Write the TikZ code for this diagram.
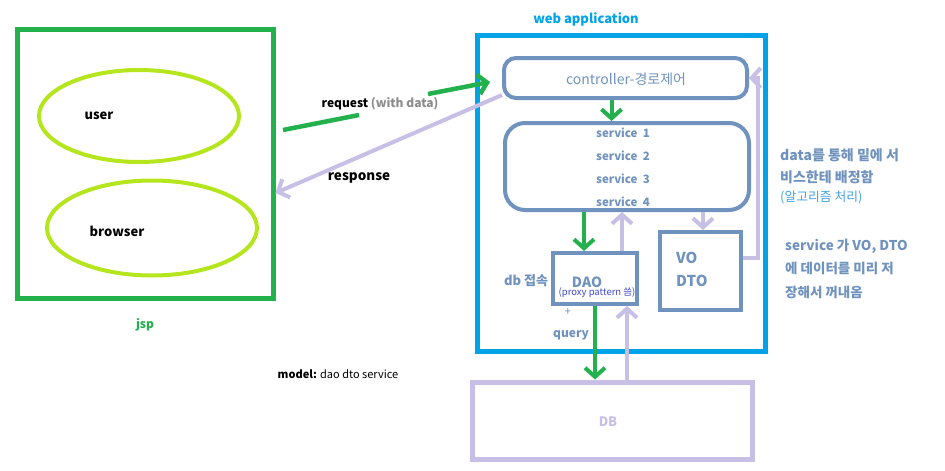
\documentclass[tikz,border=0pt]{standalone}
\usepackage{fontspec}
\setmainfont{Noto Sans CJK KR}
\usetikzlibrary{arrows.meta,shapes.geometric}

\definecolor{paintgreen}{HTML}{22B14C}
\definecolor{paintlime}{HTML}{B5E61D}
\definecolor{paintcyan}{HTML}{00A2E8}
\definecolor{bluegray}{HTML}{7092BE}
\definecolor{lavender}{HTML}{C8BFE7}
\definecolor{indigo}{HTML}{3F48CC}
\definecolor{notegray}{HTML}{8C8C8C}
\definecolor{noteblue}{HTML}{3FA0E6}

\newcommand{\fsz}[1]{\fontsize{#1}{#1}\selectfont}

\begin{document}
\begin{tikzpicture}[%
      x=1pt, y=-1pt,
      font=\fsz{12},
      box/.style={draw, rectangle, inner sep=0pt},
      oval/.style={draw=paintlime, ellipse, line width=4pt, inner sep=0pt},
      garrow/.style={color=paintgreen, line width=4pt, -{Straight Barb[length=9pt,width=20pt]}},
      larrow/.style={color=lavender, line width=4pt, -{Straight Barb[length=9pt,width=20pt]}},
      txt/.style={inner sep=0pt, text=bluegray, font=\fsz{13}\bfseries},
      ]
      \useasboundingbox (0,0) rectangle (945,471);

      % jsp side
      \node [box, draw=paintgreen, line width=5pt, minimum width=256pt, minimum height=269pt] (jsp) at (145,163.5) {};
      \node [oval, minimum width=200pt, minimum height=92pt] (user) at (139,116) {};
      \node [oval, minimum width=210pt, minimum height=95pt] (browser) at (152,228) {};
      \node [font=\fsz{13}\bfseries] at (99,116) {user};
      \node [font=\fsz{13}\bfseries] at (117,231) {browser};
      \node [text=paintgreen, font=\fsz{12}\bfseries] (jsplabel) at (145,325) {jsp};

      % web application
      \node [box, draw=paintcyan, line width=5pt, minimum width=288pt, minimum height=316pt] (webapp) at (621,193) {};
      \node [text=paintcyan, font=\fsz{13}\bfseries] (weblabel) at (586,19) {web application};

      \node [box, draw=bluegray, line width=4pt, rounded corners=12pt, minimum width=243pt, minimum height=40pt] (ctrl) at (625.5,78) {};
      \node [txt, font=\fsz{14}] at (626,79) {controller-경로제어};

      \node [box, draw=bluegray, line width=4pt, rounded corners=20pt, minimum width=244pt, minimum height=87pt] (svc) at (627,166.5) {};
      \foreach \i in {1,...,4}
            \node [txt, font=\fsz{11.5}\bfseries] (svc\i) at (623,133+23*\i-23) {service~~\i};

      \node [box, draw=bluegray, line width=4pt, minimum width=84pt, minimum height=51pt] (dao) at (595,278.5) {};
      \node [txt, font=\fsz{14}\bfseries] at (587,282) {DAO};
      \node [inner sep=0pt, text=indigo, font=\fsz{9.5}] at (597,293) {(proxy pattern 씀)};
      \node [txt] at (526,281) {db 접속};
      \node [txt, font=\fsz{11}] at (568,312) {+};
      \node [txt, font=\fsz{12}\bfseries] at (571,335) {query};

      \node [box, draw=bluegray, line width=4pt, minimum width=81pt, minimum height=78pt] (vo) at (700.5,271) {};
      \node [txt, anchor=west, font=\fsz{15}\bfseries] at (676,258) {VO};
      \node [txt, anchor=west, font=\fsz{15}\bfseries] at (676,281) {DTO};

      \node [box, draw=lavender, line width=5pt, minimum width=280pt, minimum height=77pt] (db) at (612,420.5) {};
      \node [txt, text=lavender, font=\fsz{13}\bfseries] at (608,422) {DB};

      % request / response
      \coordinate (req0) at (283,130);
      \coordinate (req1) at (359,115);
      \coordinate (req2) at (428,94);
      \draw [color=paintgreen, line width=4.5pt] (req0) -- (req1);
      \draw [garrow, line width=4.5pt] (req2) -- ([xshift=-12pt,yshift=-4pt]ctrl.west);
      \node [inner sep=0pt, font=\fsz{12}\bfseries] at (380,104) {request {\color{notegray}(with data)}};

      \draw [larrow] ([yshift=5pt]ctrl.south west) -- ([yshift=-29.5pt]jsp.east);
      \node [inner sep=0pt, font=\fsz{13.5}\bfseries] at (359,178) {response};

      % inner flow
      \draw [garrow] ([xshift=-14pt]ctrl.south) -- ([xshift=-14pt]ctrl.south |- svc.north);
      \draw [garrow] ([xshift=-11pt]dao.north |- svc.south) -- ([xshift=-11pt]dao.north);
      \draw [larrow] ([xshift=27pt]dao.north) -- ([xshift=27pt]dao.north |- svc.south);
      \draw [larrow] ([xshift=2.5pt]vo.north |- svc.south) -- ([xshift=2.5pt]vo.north);
      \draw [larrow] ([yshift=13pt]vo.east) -| ([xshift=9pt]ctrl.east) -- (ctrl.east);
      \draw [garrow] (dao.south) -- (dao.south |- db.north);
      \draw [larrow] ([xshift=32pt]dao.south |- db.north) -- ([xshift=32pt]dao.south);

      % notes
      \node [txt, anchor=west, font=\fsz{14}\bfseries] at (780,155) {data를 통해 밑에 서};
      \node [txt, anchor=west, font=\fsz{14}\bfseries] at (780,177) {비스한테 배정함};
      \node [txt, anchor=west, text=noteblue, font=\fsz{12.8}] at (780,197) {(알고리즘 처리)};
      \node [txt, anchor=west, font=\fsz{13.5}\bfseries] at (785,246) {service 가 VO, DTO};
      \node [txt, anchor=west, font=\fsz{13.5}\bfseries] at (785,268) {에 데이터를 미리 저};
      \node [txt, anchor=west, font=\fsz{13.5}\bfseries] at (785,292) {장해서 꺼내옴};

      \node [inner sep=0pt, font=\fsz{11}] (model) at (338,374) {\textbf{model:} dao dto service};
\end{tikzpicture}
\end{document}
